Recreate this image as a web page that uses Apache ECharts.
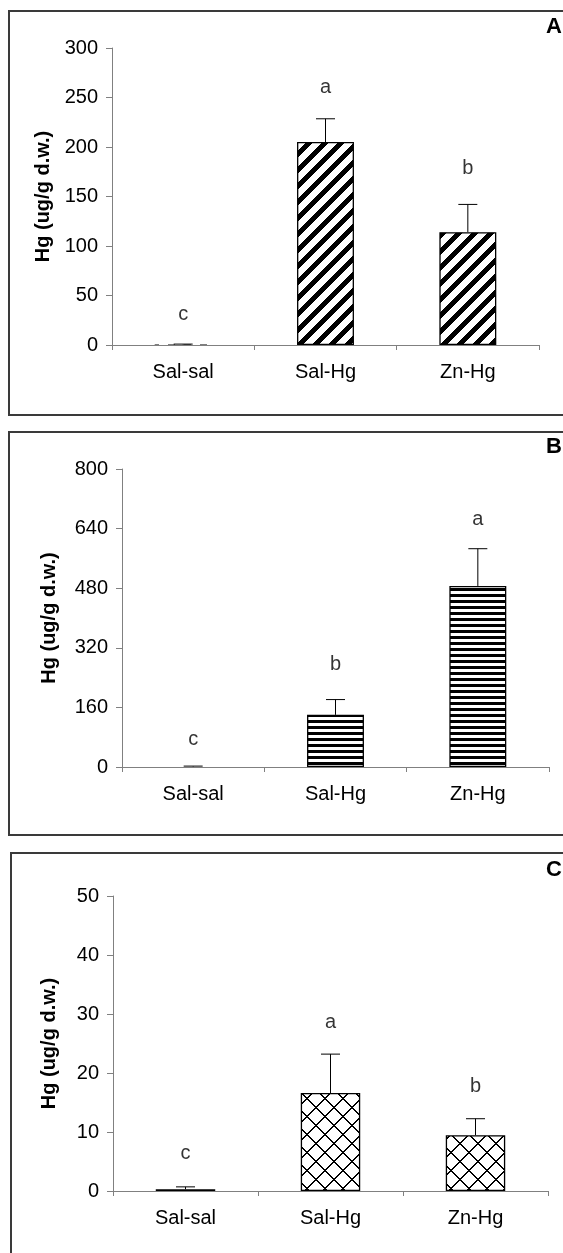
<!DOCTYPE html>
<html>
<head>
<meta charset="utf-8">
<script src="https://cdn.jsdelivr.net/npm/echarts@6/dist/echarts.min.js"></script>
<style>
html,body{margin:0;padding:0;background:#fff;}
#chart{width:563px;height:1253px;}
</style>
</head>
<body>
<div id="chart"></div>
<script>
// ---------- data ----------
const categories = ['Sal-sal', 'Sal-Hg', 'Zn-Hg'];

const meanA = [0.4, 205, 114];
const errA  = [0.5, 23.5, 28];
const lettersA = ['c', 'a', 'b'];
const letterPosA = [23.5, 253.5, 171];
const yMaxA = 300, yStepA = 50;

const meanB = [1.2, 140, 486];
const errB  = [1.2, 41, 100];
const lettersB = ['c', 'b', 'a'];
const letterPosB = [53.8, 255.5, 645.6];
const yMaxB = 800, yStepB = 160;

const meanC = [0.3, 16.6, 9.45];
const errC  = [0.4, 6.6, 2.8];
const lettersC = ['c', 'a', 'b'];
const letterPosC = [5.25, 27.4, 16.6];
const yMaxC = 50, yStepC = 10;

const panelNames = ['A', 'B', 'C'];
const yTitle = 'Hg (ug/g d.w.)';

// ---------- patterns ----------
function makePattern(size, fn) {
  const c = document.createElement('canvas');
  c.width = size; c.height = size;
  const ctx = c.getContext('2d');
  const img = ctx.createImageData(size, size);
  for (let y = 0; y < size; y++) {
    for (let x = 0; x < size; x++) {
      const k = (y * size + x) * 4;
      const v = fn(x, y) ? 0 : 255;
      img.data[k] = v; img.data[k + 1] = v; img.data[k + 2] = v; img.data[k + 3] = 255;
    }
  }
  ctx.putImageData(img, 0, 0);
  return { image: c, repeat: 'repeat' };
}
const patDiag = makePattern(16, (x, y) => ((x + y) % 16) < 7);
const patHoriz = makePattern(6, (x, y) => (y % 6) < 3);
const P = 18;
const patDiamond = makePattern(P, (x, y) => ((x + y) % P) < 2 || (((x - y) % P + P) % P) < 2);

const FONT = '"Liberation Sans", Arial, sans-serif';

const panels = [
  { mean: meanA, err: errA, letters: lettersA, lpos: letterPosA, max: yMaxA, step: yStepA, pat: patDiag,
    grid: { left: 112, top: 48, width: 427, height: 297 }, nameGap: 59, bw: '40%' },
  { mean: meanB, err: errB, letters: lettersB, lpos: letterPosB, max: yMaxB, step: yStepB, pat: patHoriz,
    grid: { left: 122, top: 469, width: 427, height: 298 }, nameGap: 63, bw: '40%' },
  { mean: meanC, err: errC, letters: lettersC, lpos: letterPosC, max: yMaxC, step: yStepC, pat: patDiamond,
    grid: { left: 113, top: 896, width: 435, height: 295 }, nameGap: 54, bw: '41%' }
];

const grids = [], xAxes = [], yAxes = [], series = [];
panels.forEach((p, i) => {
  grids.push(Object.assign({ containLabel: false }, p.grid));
  xAxes.push({
    type: 'category', gridIndex: i, data: categories, boundaryGap: true,
    axisLine: { show: true, lineStyle: { color: '#808080', width: 1 } },
    axisTick: { show: true, length: 5, lineStyle: { color: '#808080' } },
    axisLabel: { color: '#000', fontSize: 20, fontFamily: FONT, margin: 17 },
    splitLine: { show: false }
  });
  yAxes.push({
    type: 'value', gridIndex: i, min: 0, max: p.max, interval: p.step,
    name: yTitle, nameLocation: 'middle', nameGap: p.nameGap,
    nameTextStyle: { color: '#000', fontSize: 20, fontWeight: 'bold', fontFamily: FONT },
    axisLine: { show: true, lineStyle: { color: '#808080', width: 1 } },
    axisTick: { show: true, length: 6, lineStyle: { color: '#808080' } },
    axisLabel: { color: '#000', fontSize: 20, fontFamily: FONT, margin: 14 },
    splitLine: { show: false }
  });
  series.push({
    type: 'bar', xAxisIndex: i, yAxisIndex: i, barWidth: p.bw,
    data: p.mean.map(v => ({
      value: v,
      itemStyle: { borderWidth: (v / p.max > 0.003) ? 1.3 : 0 }
    })),
    itemStyle: { color: p.pat, borderColor: '#000', borderWidth: 1.3 },
    silent: true, animation: false
  });
  series.push({
    type: 'custom', xAxisIndex: i, yAxisIndex: i,
    data: p.mean.map((v, j) => [j, v, p.err[j]]),
    renderItem: function (params, api) {
      const x = api.value(0), m = api.value(1), e = api.value(2);
      const p0 = api.coord([x, m]);
      const p1 = api.coord([x, m + e]);
      const half = 9.5;
      return {
        type: 'group',
        children: [
          { type: 'line', shape: { x1: p0[0], y1: p0[1], x2: p1[0], y2: p1[1] }, style: { stroke: '#000', lineWidth: 1 } },
          { type: 'line', shape: { x1: p1[0] - half, y1: p1[1], x2: p1[0] + half, y2: p1[1] }, style: { stroke: '#000', lineWidth: 1 } }
        ]
      };
    },
    z: 5, silent: true, animation: false
  });
  series.push({
    type: 'scatter', xAxisIndex: i, yAxisIndex: i, symbolSize: 0,
    data: p.lpos.map((v, j) => [j, v]),
    label: {
      show: true, position: 'top', distance: 0, offset: [0, 3],
      formatter: (d) => p.letters[d.dataIndex],
      color: '#000', fontSize: 20, fontFamily: FONT
    },
    silent: true, animation: false
  });
});

const frames = [
  { x: 9, y: 11, h: 404 },
  { x: 9, y: 432, h: 403 },
  { x: 11, y: 853, h: 460 }
];
const panelLabelPos = [16, 436, 859];

const option = {
  animation: false,
  backgroundColor: '#fff',
  title: panelNames.map((n, i) => ({
    text: n, left: 546, top: panelLabelPos[i], padding: 0,
    textStyle: { fontSize: 22, fontWeight: 'bold', color: '#000', fontFamily: FONT }
  })),
  grid: grids, xAxis: xAxes, yAxis: yAxes, series: series,
  graphic: frames.map(f => ({
    type: 'rect', shape: { x: f.x, y: f.y, width: 620, height: f.h },
    style: { fill: 'none', stroke: '#3a3a3a', lineWidth: 2 }, silent: true, z: 10
  }))
};

const chart = echarts.init(document.getElementById('chart'), null, { renderer: 'canvas' });
chart.setOption(option);
</script>
</body>
</html>
